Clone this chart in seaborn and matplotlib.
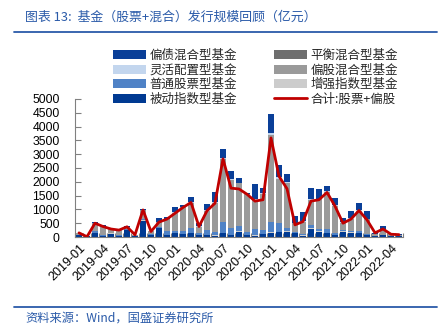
import numpy as np
import pandas as pd
import matplotlib
matplotlib.use("Agg")
import matplotlib.pyplot as plt
from matplotlib.patches import Patch
from matplotlib.lines import Line2D
from matplotlib.ticker import FixedLocator
import seaborn as sns

sns.set_style("white")
plt.rcParams['font.family'] = ['Liberation Sans', 'Noto Sans CJK SC', 'DejaVu Sans']

months = [
    "2019-01", "2019-02", "2019-03", "2019-04", "2019-05", "2019-06", "2019-07", "2019-08", "2019-09",
    "2019-10", "2019-11", "2019-12", "2020-01", "2020-02", "2020-03", "2020-04", "2020-05", "2020-06",
    "2020-07", "2020-08", "2020-09", "2020-10", "2020-11", "2020-12", "2021-01", "2021-02", "2021-03",
    "2021-04", "2021-05", "2021-06", "2021-07", "2021-08", "2021-09", "2021-10", "2021-11", "2021-12",
    "2022-01", "2022-02", "2022-03", "2022-04", "2022-05",
]

# stacked series (亿元), bottom to top
passive_index = [60, 5, 130, 40, 120, 30, 250, 30, 590, 60, 320, 60, 130, 100, 130, 60, 60, 50, 130, 60,
                 190, 60, 40, 100, 130, 170, 190, 130, 50, 290, 190, 135, 70, 195, 160, 130, 70, 30, 60, 20, 20]
enhanced_index = [10, 0, 10, 10, 10, 10, 10, 5, 10, 10, 10, 10, 10, 10, 20, 10, 20, 20, 20, 20,
                  20, 20, 20, 20, 40, 20, 20, 10, 10, 20, 20, 20, 10, 10, 10, 10, 10, 5, 10, 5, 5]
common_stock = [20, 5, 60, 40, 30, 30, 20, 10, 60, 30, 40, 150, 60, 120, 160, 80, 180, 100, 400, 240,
                200, 100, 240, 150, 360, 330, 120, 50, 60, 140, 70, 120, 60, 40, 40, 80, 30, 10, 20, 10, 10]
partial_stock = [60, 5, 310, 290, 130, 180, 90, 35, 320, 100, 170, 430, 660, 840, 940, 230, 690, 1055, 2280, 1750,
                 1540, 1370, 1050, 1280, 3180, 1580, 1620, 300, 440, 900, 1080, 1340, 990, 280, 460, 740, 530, 70, 200, 60, 50]
balanced = [0] * 41
flexible = [0, 0, 10, 10, 0, 0, 0, 0, 0, 0, 20, 15, 30, 15, 25, 20, 40, 50, 20, 20,
            20, 10, 30, 30, 60, 80, 30, 20, 20, 40, 30, 40, 20, 10, 20, 30, 10, 5, 10, 5, 5]
partial_bond = [10, 5, 15, 30, 30, 20, 30, 10, 30, 30, 120, 50, 180, 80, 170, 100, 200, 350, 350, 290,
                165, 40, 550, 190, 700, 440, 300, 265, 340, 380, 360, 200, 260, 145, 270, 235, 295, 20, 110, 10, 15]
total_line = [150, 10, 500, 380, 290, 250, 370, 80, 980, 200, 540, 650, 860, 1070, 1250, 380, 950, 1225, 2830, 1770,
              1740, 1550, 1300, 1350, 3590, 2200, 1750, 440, 560, 1300, 1350, 1615, 1120, 500, 650, 960, 620, 150, 290, 100, 85]

series_names = ["被动指数型基金", "增强指数型基金", "普通股票型基金", "偏股混合型基金",
                "平衡混合型基金", "灵活配置型基金", "偏债混合型基金"]
series_vals = [passive_index, enhanced_index, common_stock, partial_stock, balanced, flexible, partial_bond]
colors = {
    "偏债混合型基金": "#0A3F98",
    "灵活配置型基金": "#C3D6EE",
    "普通股票型基金": "#4F82C6",
    "被动指数型基金": "#003A92",
    "平衡混合型基金": "#6E6E6E",
    "偏股混合型基金": "#9A9A9A",
    "增强指数型基金": "#CCCCCC",
}
line_name = "合计:股票+偏股"
line_color = "#C00000"
title_blue = "#2B5BA9"

W, H = 448, 327
fig = plt.figure(figsize=(W / 100, H / 100), dpi=100)
ax = fig.add_axes([75 / W, 1 - 237 / H, (403 - 75) / W, (237 - 99) / H])

idx = np.arange(len(months))
bottom = np.zeros(len(months))
for name, vals in zip(series_names, series_vals):
    v = np.array(vals, dtype=float)
    sns.barplot(x=idx, y=v, bottom=bottom, color=colors[name], saturation=1,
                width=0.68, errorbar=None, ax=ax, linewidth=0)
    bottom = bottom + v

sns.lineplot(x=idx, y=np.array(total_line, dtype=float), color=line_color, lw=2.0, ax=ax,
             solid_joinstyle='round', solid_capstyle='round')

ax.set_xlim(-0.5, len(months) - 0.5)
ax.set_ylim(0, 5000)
ax.set_yticks(np.arange(0, 5001, 500))
ax.set_yticklabels([str(v) for v in range(0, 5001, 500)], fontsize=8.8, color='black')
lab_pos = list(range(0, len(months), 3))
ax.set_xticks(lab_pos)
ax.set_xticklabels([months[i] for i in lab_pos], rotation=45, ha='right', rotation_mode='anchor',
                   fontsize=9, color='black')
ax.xaxis.set_minor_locator(FixedLocator(np.arange(-0.5, len(months), 1.0)))
ax.tick_params(axis='x', which='major', length=0, pad=4)
ax.tick_params(axis='x', which='minor', length=3, direction='in', color='#808080', width=0.8, bottom=True)
ax.tick_params(axis='y', which='major', length=4, direction='in', color='#808080', width=0.8, pad=11, left=True)
ax.set_xlabel("")
ax.set_ylabel("")
for s in ['top', 'right']:
    ax.spines[s].set_visible(False)
for s in ['left', 'bottom']:
    ax.spines[s].set_color('#808080')
    ax.spines[s].set_linewidth(0.8)
ax.grid(False)

legend_order = ["偏债混合型基金", "灵活配置型基金", "普通股票型基金", "被动指数型基金",
                "平衡混合型基金", "偏股混合型基金", "增强指数型基金"]
handles = [Patch(facecolor=colors[n], edgecolor='none', label=n) for n in legend_order]
handles.append(Line2D([0], [0], color=line_color, lw=2.0, label=line_name))
fig.legend(handles=handles, loc='upper left', bbox_to_anchor=(113 / W, 1 - 49 / H), ncol=2,
           frameon=False, fontsize=9, handlelength=2.6, handleheight=0.7, labelspacing=0.12,
           columnspacing=3.0, handletextpad=0.3, borderpad=0, borderaxespad=0,
           prop={'family': ['Noto Sans CJK SC'], 'size': 9})

fig.text(25 / W, 1 - 17 / H, "图表 13:  基金（股票+混合）发行规模回顾（亿元）", fontsize=9.3,
         color=title_blue, va='center', ha='left', style='italic',
         family=['Noto Sans CJK SC', 'DejaVu Sans'])
fig.add_artist(Line2D([14 / W, 437 / W], [1 - 32 / H, 1 - 32 / H], color=title_blue, lw=1.3,
                      transform=fig.transFigure))
fig.add_artist(Line2D([14 / W, 437 / W], [1 - 307 / H, 1 - 307 / H], color=title_blue, lw=1.3,
                      transform=fig.transFigure))
fig.text(25 / W, 1 - 318 / H, "资料来源：Wind，国盛证券研究所", fontsize=8.8, color=title_blue,
         va='center', ha='left', style='italic', family=['Noto Sans CJK SC', 'DejaVu Sans'])

fig.savefig("out.png", dpi=100)
